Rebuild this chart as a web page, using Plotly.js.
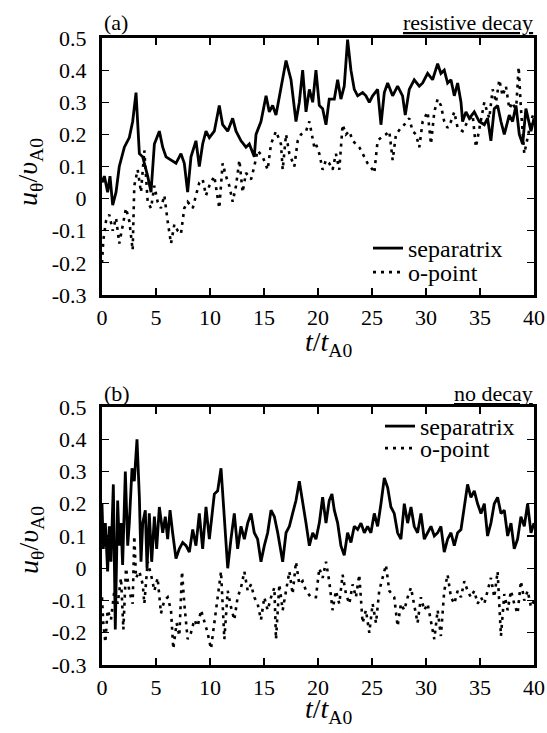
<!DOCTYPE html>
<html>
<head>
<meta charset="utf-8">
<script src="https://cdn.plot.ly/plotly-3.0.1.min.js"></script>
<style>html,body{margin:0;padding:0;background:#fff;}#chart{width:547px;height:733px;}</style>
</head>
<body>
<div id="chart"></div>
<script>
// ---------- data (t / t_A0 , u_theta / v_A0) ----------
const aSepT = [0,0.22,0.52,0.74,0.99,1.30,1.60,2.07,2.53,2.84,3.15,3.46,3.77,4.23,4.54,4.85,5.31,5.62,5.93,6.39,6.85,7.31,7.62,7.93,8.24,8.70,9.01,9.32,9.63,9.94,10.40,10.86,11.17,11.64,12.10,12.41,12.87,13.33,13.64,14.10,14.26,14.72,15.19,15.49,15.80,16.11,16.57,17.04,17.50,17.96,18.27,18.58,18.89,19.20,19.51,19.81,20.12,20.43,20.74,21.04,21.51,21.82,22.12,22.43,22.74,23.05,23.36,23.67,24.13,24.44,24.75,25.06,25.52,25.83,26.14,26.45,26.91,27.37,27.83,28.08,28.45,28.91,29.38,29.69,30.15,30.61,31.08,31.38,31.69,32.00,32.31,32.62,32.93,33.24,33.39,33.70,34.01,34.47,34.93,35.40,35.70,36.01,36.32,36.63,36.94,37.25,37.71,38.02,38.33,38.64,38.95,39.25,39.72,40.0];
const aSepV = [0.05,0.07,0.02,0.07,-0.02,0.02,0.10,0.16,0.19,0.24,0.33,0.14,0.13,0.07,0.02,0.17,0.21,0.16,0.13,0.12,0.11,0.14,0.11,0.02,0.13,0.18,0.10,0.17,0.21,0.19,0.21,0.29,0.23,0.21,0.25,0.21,0.18,0.16,0.17,0.13,0.20,0.24,0.32,0.27,0.29,0.26,0.35,0.43,0.37,0.24,0.30,0.40,0.27,0.34,0.30,0.40,0.29,0.28,0.23,0.31,0.31,0.37,0.31,0.35,0.495,0.40,0.34,0.32,0.33,0.32,0.30,0.32,0.34,0.23,0.33,0.36,0.32,0.35,0.32,0.26,0.34,0.37,0.35,0.36,0.39,0.37,0.42,0.39,0.40,0.36,0.37,0.32,0.36,0.30,0.24,0.27,0.25,0.27,0.24,0.23,0.25,0.18,0.28,0.29,0.24,0.20,0.26,0.24,0.29,0.20,0.17,0.28,0.21,0.25];

const aOptT = [0,0.12,0.37,0.68,0.99,1.30,1.60,1.91,2.22,2.53,2.84,2.99,3.30,3.61,3.92,4.23,4.54,4.85,5.15,5.46,5.77,6.08,6.39,6.70,7.01,7.31,7.62,7.93,8.40,8.70,9.01,9.32,9.63,9.94,10.40,10.86,11.17,11.48,11.79,12.10,12.41,12.72,13.02,13.33,13.80,14.10,14.41,14.88,15.34,15.65,16.11,16.57,16.73,17.04,17.35,17.81,18.12,18.43,18.89,19.20,19.66,19.81,20.12,20.43,20.74,21.04,21.35,21.66,21.97,22.28,22.59,22.90,23.21,23.51,23.82,24.29,24.59,25.06,25.21,25.52,25.83,26.29,26.60,26.91,27.22,27.68,27.99,28.45,28.76,29.07,29.38,29.69,30.15,30.46,30.77,31.08,31.38,31.69,32.00,32.31,32.62,32.93,33.39,33.85,34.32,34.62,34.93,35.40,35.86,36.17,36.48,36.79,37.09,37.40,37.71,38.02,38.33,38.58,38.79,39.10,39.41,39.72,40.0];
const aOptV = [-0.20,-0.13,-0.07,-0.05,-0.10,-0.06,-0.14,-0.08,-0.03,-0.07,-0.16,0.04,0.09,0.02,0.15,-0.01,-0.03,0.04,-0.01,-0.03,0.01,-0.07,-0.14,-0.08,-0.10,-0.11,-0.03,-0.01,-0.03,0.01,0.05,0.06,0.01,0.04,0.07,-0.03,0.11,0.07,0.04,-0.01,0.04,0.12,0.02,0.08,0.06,0.10,0.15,0.13,0.09,0.17,0.21,0.17,0.09,0.20,0.14,0.10,0.18,0.20,0.21,0.24,0.16,0.17,0.14,0.09,0.12,0.11,0.09,0.14,0.09,0.23,0.20,0.21,0.18,0.17,0.16,0.13,0.11,0.09,0.08,0.18,0.19,0.20,0.21,0.12,0.20,0.22,0.23,0.25,0.21,0.20,0.16,0.24,0.27,0.17,0.27,0.31,0.29,0.24,0.22,0.24,0.27,0.22,0.21,0.24,0.26,0.16,0.22,0.30,0.25,0.34,0.30,0.37,0.32,0.35,0.28,0.30,0.27,0.41,0.28,0.14,0.19,0.24,0.27];

const bSepT = [0,0.12,0.31,0.52,0.68,0.83,1.05,1.23,1.45,1.60,1.76,1.91,2.16,2.38,2.53,2.78,2.99,3.24,3.46,3.61,3.77,4.01,4.17,4.38,4.60,4.85,5.06,5.31,5.62,5.86,6.08,6.30,6.54,6.85,7.16,7.47,7.78,8.09,8.40,8.70,9.01,9.32,9.63,9.94,10.40,10.71,11.02,11.33,11.64,11.94,12.25,12.56,12.87,13.18,13.49,13.80,14.10,14.41,14.72,15.03,15.34,15.65,15.96,16.27,16.73,17.04,17.35,17.65,17.96,18.27,18.58,18.89,19.20,19.51,19.81,20.12,20.43,20.74,21.04,21.29,21.51,21.82,22.12,22.43,22.74,23.05,23.36,23.67,23.98,24.29,24.59,24.90,25.21,25.52,25.83,26.14,26.45,26.75,27.06,27.37,27.68,27.99,28.30,28.61,28.91,29.22,29.53,29.84,30.15,30.46,30.77,31.08,31.38,31.69,32.00,32.31,32.62,32.93,33.24,33.55,33.85,34.16,34.47,34.78,35.09,35.40,35.70,36.01,36.32,36.63,36.94,37.25,37.56,37.87,38.17,38.48,38.79,39.10,39.41,39.72,40.0];
const bSepV = [0.20,0.06,0.14,-0.01,0.13,0.02,0.26,-0.19,0.21,0.07,0.14,0.01,0.30,0.07,0.14,0.31,0.27,0.40,0.22,0.02,0.14,0.18,0.00,0.17,0.02,0.16,0.06,0.19,0.11,0.16,0.09,0.18,0.11,0.03,0.06,0.08,0.07,0.05,0.12,0.07,0.17,0.06,0.19,0.09,0.23,0.24,0.31,0.16,0.00,0.09,0.17,0.06,0.13,0.09,0.14,0.17,0.11,0.09,0.02,0.07,0.11,0.18,0.16,0.11,0.02,0.11,0.13,0.17,0.21,0.27,0.21,0.14,0.07,0.11,0.09,0.14,0.22,0.14,0.21,0.23,0.18,0.14,0.07,0.04,0.11,0.08,0.13,0.12,0.14,0.11,0.13,0.11,0.17,0.13,0.20,0.28,0.25,0.19,0.17,0.11,0.09,0.20,0.14,0.19,0.13,0.11,0.17,0.09,0.11,0.13,0.10,0.11,0.13,0.05,0.09,0.11,0.07,0.11,0.12,0.20,0.26,0.22,0.24,0.20,0.17,0.20,0.10,0.14,0.20,0.22,0.17,0.18,0.10,0.14,0.06,0.09,0.16,0.13,0.20,0.11,0.14];

const bOptT = [0,0.12,0.31,0.52,0.83,1.14,1.45,1.76,1.98,2.22,2.53,2.84,2.99,3.15,3.46,3.77,3.92,4.23,4.54,4.85,5.15,5.46,5.77,6.08,6.39,6.60,6.91,7.16,7.41,7.62,7.93,8.24,8.55,8.86,9.17,9.48,9.78,10.09,10.40,10.71,11.02,11.33,11.64,11.94,12.25,12.56,12.87,13.18,13.49,13.80,14.10,14.41,14.72,15.03,15.34,15.65,15.96,16.11,16.42,16.73,17.04,17.35,17.65,17.96,18.27,18.58,18.89,19.35,19.81,20.12,20.43,20.74,21.04,21.35,21.66,21.97,22.28,22.59,22.90,23.21,23.51,23.82,24.13,24.44,24.75,25.06,25.37,25.67,25.98,26.29,26.60,27.06,27.37,27.68,27.99,28.30,28.61,28.91,29.22,29.53,29.84,30.15,30.46,30.77,31.08,31.38,31.69,32.00,32.31,32.62,32.93,33.24,33.55,33.85,34.16,34.47,34.78,35.09,35.40,35.70,36.01,36.32,36.63,36.94,37.25,37.56,37.87,38.17,38.48,38.79,39.10,39.41,39.72,40.0];
const bOptV = [-0.09,-0.17,-0.23,-0.13,-0.16,-0.07,-0.11,-0.03,-0.19,0.00,-0.07,-0.11,0.10,-0.03,-0.01,-0.05,-0.11,0.02,-0.02,-0.07,-0.03,-0.14,-0.10,-0.09,-0.13,-0.25,-0.17,-0.21,-0.01,-0.11,-0.22,-0.20,-0.16,-0.18,-0.13,-0.17,-0.20,-0.25,-0.17,-0.10,-0.01,-0.22,-0.07,-0.12,-0.16,-0.09,-0.06,-0.01,-0.07,-0.05,-0.09,-0.11,-0.16,-0.09,-0.13,-0.09,-0.06,-0.22,-0.05,-0.13,-0.07,-0.01,-0.08,0.02,-0.05,-0.04,-0.07,-0.09,-0.09,0.00,-0.03,0.02,-0.04,-0.13,-0.07,-0.11,-0.02,-0.08,-0.11,-0.05,-0.09,-0.02,-0.17,-0.13,-0.20,-0.11,-0.17,-0.07,-0.03,0.01,-0.07,-0.09,-0.18,-0.11,-0.13,-0.09,-0.06,-0.11,-0.17,-0.09,-0.13,-0.11,-0.16,-0.22,-0.13,-0.21,-0.07,-0.02,-0.09,-0.11,-0.07,-0.09,-0.04,-0.07,-0.09,-0.07,-0.11,-0.09,-0.11,-0.07,-0.03,-0.09,-0.01,-0.21,-0.08,-0.13,-0.07,-0.11,-0.14,-0.04,-0.10,-0.07,-0.12,-0.10];

const seriesNames = ["separatrix", "o-point"];
const panelLabels = ["(a)", "(b)"];
const panelTags = ["resistive decay", "no decay"];
const xTickVals = [0,5,10,15,20,25,30,35,40];
const xTickText = ["0","5","10","15","20","25","30","35","40"];
const yTickVals = [-0.3,-0.2,-0.1,0,0.1,0.2,0.3,0.4,0.5];
const yTickText = ["-0.3","-0.2","-0.1","0","0.1","0.2","0.3","0.4","0.5"];

// ---------- styling ----------
const FONT = "Liberation Serif, DejaVu Serif, serif";
const W = 547, H = 733;
const px = v => v / W, py = v => 1 - v / H;

const solid = {color: "#000", width: 2.8};
const dotted = {color: "#000", width: 2.6, dash: "3px,5px"};

const traces = [
  {x: aSepT, y: aSepV, name: seriesNames[0], mode: "lines", line: solid, xaxis: "x", yaxis: "y", legend: "legend"},
  {x: aOptT, y: aOptV, name: seriesNames[1], mode: "lines", line: dotted, xaxis: "x", yaxis: "y", legend: "legend3"},
  {x: bSepT, y: bSepV, name: seriesNames[0], mode: "lines", line: solid, xaxis: "x2", yaxis: "y2", legend: "legend2"},
  {x: bOptT, y: bOptV, name: seriesNames[1], mode: "lines", line: dotted, xaxis: "x2", yaxis: "y2", legend: "legend4"}
];

function xAxis(anchor, dom) {
  return {
    domain: dom, anchor: anchor, range: [0, 40],
    tickmode: "array", tickvals: xTickVals, ticktext: xTickText,
    ticks: "inside", ticklen: 7, tickwidth: 1.2, tickcolor: "#000",
    showline: true, linewidth: 3, linecolor: "#000", mirror: "ticks",
    showgrid: false, zeroline: false, ticklabelstandoff: 1,
    tickfont: {family: FONT, size: 22, color: "#000"}
  };
}
function yAxis(anchor, dom) {
  return {
    domain: dom, anchor: anchor, range: [-0.3, 0.5],
    tickmode: "array", tickvals: yTickVals, ticktext: yTickText,
    ticks: "inside", ticklen: 7, tickwidth: 1.2, tickcolor: "#000",
    showline: true, linewidth: 3, linecolor: "#000", mirror: "ticks",
    showgrid: false, zeroline: false, ticklabelstandoff: 8,
    tickfont: {family: FONT, size: 22, color: "#000"}
  };
}

const xDom = [px(102), px(534)];
const yDomA = [py(295), py(38)];
const yDomB = [py(665), py(407)];

function legendAt(x, y) {
  return {
    x: px(x), y: py(y),
    font: {family: FONT, size: 24, color: "#000"},
    bgcolor: "rgba(0,0,0,0)", borderwidth: 0,
    xanchor: "left", yanchor: "top"
  };
}

const ytitle = "<i>u</i><sub>θ</sub>/<i>υ</i><sub>A0</sub>";
const xtitle = "<i>t</i>/<i>t</i><sub>A0</sub>";
const annFont = {family: FONT, size: 28, color: "#000"};
const lblFont = {family: FONT, size: 22, color: "#000"};

const annotations = [
  {text: ytitle, x: px(30), y: py(172), xref: "paper", yref: "paper", showarrow: false, textangle: -90, font: annFont, xanchor: "center", yanchor: "middle"},
  {text: ytitle, x: px(30), y: py(540), xref: "paper", yref: "paper", showarrow: false, textangle: -90, font: annFont, xanchor: "center", yanchor: "middle"},
  {text: xtitle, x: px(328), y: py(344), xref: "paper", yref: "paper", showarrow: false, font: annFont, xanchor: "center", yanchor: "middle"},
  {text: xtitle, x: px(328), y: py(710), xref: "paper", yref: "paper", showarrow: false, font: annFont, xanchor: "center", yanchor: "middle"},
  {text: panelLabels[0], x: px(102), y: py(23), xref: "paper", yref: "paper", showarrow: false, font: lblFont, xanchor: "left", yanchor: "middle"},
  {text: "<u>" + panelTags[0] + "</u>", x: px(535), y: py(23), xref: "paper", yref: "paper", showarrow: false, font: lblFont, xanchor: "right", yanchor: "middle"},
  {text: panelLabels[1], x: px(102), y: py(393), xref: "paper", yref: "paper", showarrow: false, font: lblFont, xanchor: "left", yanchor: "middle"},
  {text: "<u>" + panelTags[1] + "</u>", x: px(535), y: py(393), xref: "paper", yref: "paper", showarrow: false, font: lblFont, xanchor: "right", yanchor: "middle"}
];

const layout = {
  width: W, height: H,
  font: {family: FONT, color: "#000"},
  margin: {l: 0, r: 0, t: 0, b: 0, pad: 0},
  paper_bgcolor: "#fff", plot_bgcolor: "#fff",
  showlegend: true,
  xaxis: xAxis("y", xDom), yaxis: yAxis("x", yDomA),
  xaxis2: xAxis("y2", xDom), yaxis2: yAxis("x2", yDomB),
  legend: legendAt(368, 226),
  legend3: legendAt(368, 250),
  legend2: legendAt(380, 404),
  legend4: legendAt(380, 426),
  annotations: annotations
};

Plotly.newPlot("chart", traces, layout, {staticPlot: true, displayModeBar: false});
</script>
</body>
</html>
